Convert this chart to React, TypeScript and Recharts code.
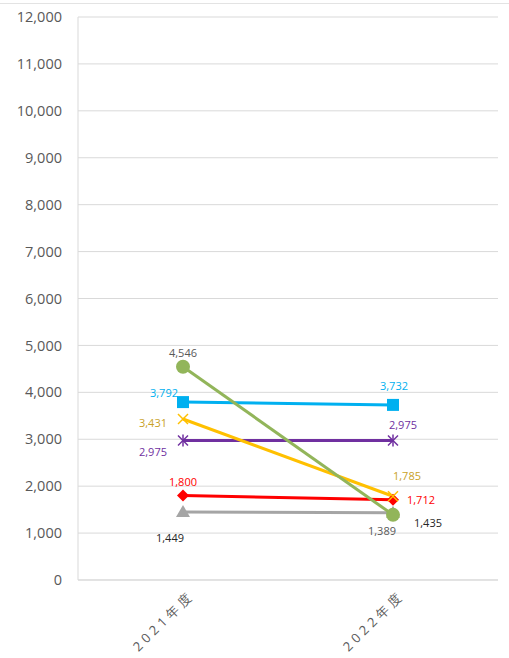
import React from "react";
import {
	LineChart,
	Line,
	XAxis,
	YAxis,
	CartesianGrid,
	LabelList
} from "recharts";

const categories = ["2021年度", "2022年度"];
const grayValues = [1449, 1435];
const redValues = [1800, 1712];
const purpleValues = [2975, 2975];
const yellowValues = [3431, 1785];
const blueValues = [3792, 3732];
const greenValues = [4546, 1389];
const yTicks = [0, 1000, 2000, 3000, 4000, 5000, 6000, 7000, 8000, 9000, 10000, 11000, 12000];

const data = categories.map((name, i) => ({
	name,
	gray: grayValues[i],
	red: redValues[i],
	purple: purpleValues[i],
	yellow: yellowValues[i],
	blue: blueValues[i],
	green: greenValues[i]
}));

const FONT = "'Open Sans', 'Noto Sans', sans-serif";

// label offsets per series, [dx, dy] per category
const series = [
	{ key: "gray", color: "#A5A5A5", labelColor: "#262626", shape: "triangle", offsets: [[-13, 30], [35, 14]] },
	{ key: "red", color: "#FF0000", labelColor: "#FF0000", shape: "diamond", offsets: [[0, -10], [28, 4]] },
	{ key: "purple", color: "#7030A0", labelColor: "#7030A0", shape: "star", offsets: [[-30, 16], [10, -11]] },
	{ key: "yellow", color: "#FFC000", labelColor: "#C9A227", shape: "x", offsets: [[-30, 8], [14, -16]] },
	{ key: "blue", color: "#00B0F0", labelColor: "#00B0F0", shape: "square", offsets: [[-19, -5], [1, -15]] },
	{ key: "green", color: "#92B55A", labelColor: "#595959", shape: "circle", offsets: [[0, -10], [-11, 20]] }
];

const Marker = ({ cx, cy, shape, color }: any) => {
	if (cx == null || cy == null) return null;
	switch (shape) {
		case "square":
			return <rect x={cx - 6} y={cy - 6} width={12} height={12} fill={color} />;
		case "circle":
			return <circle cx={cx} cy={cy} r={7} fill={color} />;
		case "diamond":
			return <polygon points={`${cx},${cy - 6} ${cx + 6},${cy} ${cx},${cy + 6} ${cx - 6},${cy}`} fill={color} />;
		case "triangle":
			return <polygon points={`${cx},${cy - 7} ${cx + 7},${cy + 5} ${cx - 7},${cy + 5}`} fill={color} />;
		case "x":
			return (
				<g stroke={color} strokeWidth={1.5}>
					<line x1={cx - 5} y1={cy - 5} x2={cx + 5} y2={cy + 5} />
					<line x1={cx - 5} y1={cy + 5} x2={cx + 5} y2={cy - 5} />
				</g>
			);
		case "star":
			return (
				<g stroke={color} strokeWidth={1.5}>
					<line x1={cx - 5} y1={cy - 5} x2={cx + 5} y2={cy + 5} />
					<line x1={cx - 5} y1={cy + 5} x2={cx + 5} y2={cy - 5} />
					<line x1={cx} y1={cy - 6} x2={cx} y2={cy + 6} />
				</g>
			);
		default:
			return null;
	}
};

const XTick = ({ x, y, payload }: any) => (
	<g transform={`translate(${x + 9},${y + 5})`}>
		<text
			x={0}
			y={0}
			dy={4}
			textAnchor="end"
			transform="rotate(-45)"
			fill="#595959"
			fontSize={13}
			letterSpacing={4}
			fontFamily={FONT}
		>
			{payload.value}
		</text>
	</g>
);

const makeLabel = (s: any) => (props: any) => {
	const { x, y, value, index } = props;
	const [dx, dy] = s.offsets[index] || [0, -10];
	return (
		<text
			x={x + dx}
			y={y + dy}
			textAnchor="middle"
			fill={s.labelColor}
			fontSize={11}
			fontFamily={FONT}
		>
			{Number(value).toLocaleString("en-US")}
		</text>
	);
};

export default function App() {
	return (
		<div style={{ position: "absolute", left: 0, top: 0, width: 509, height: 658, background: "#fff" }}>
			<div style={{ position: "absolute", left: 0, top: 3, width: 509, borderTop: "1px solid #e3e3e3" }} />
			<LineChart
				width={509}
				height={658}
				data={data}
				margin={{ top: 17, right: 11, left: 0, bottom: 8 }}
			>
				<CartesianGrid vertical={false} stroke="#d9d9d9" strokeWidth={1} />
				<XAxis
					dataKey="name"
					height={70}
					padding={{ left: 105, right: 105 }}
					axisLine={{ stroke: "#d9d9d9" }}
					tickLine={false}
					tick={<XTick />}
					interval={0}
				/>
				<YAxis
					width={78}
					domain={[0, 12000]}
					ticks={yTicks}
					interval={0}
					axisLine={{ stroke: "#d9d9d9" }}
					tickLine={false}
					tickMargin={10}
					tick={{ fill: "#595959", fontSize: 14.5, fontFamily: FONT }}
					tickFormatter={(v: number) => v.toLocaleString("en-US")}
				/>
				{series.map((s) => (
					<Line
						key={s.key}
						dataKey={s.key}
						stroke={s.color}
						strokeWidth={3}
						isAnimationActive={false}
						dot={(p: any) => (
							<Marker key={`${s.key}-${p.index}`} cx={p.cx} cy={p.cy} shape={s.shape} color={s.color} />
						)}
						activeDot={false}
					>
						<LabelList dataKey={s.key} content={makeLabel(s)} />
					</Line>
				))}
			</LineChart>
		</div>
	);
}
